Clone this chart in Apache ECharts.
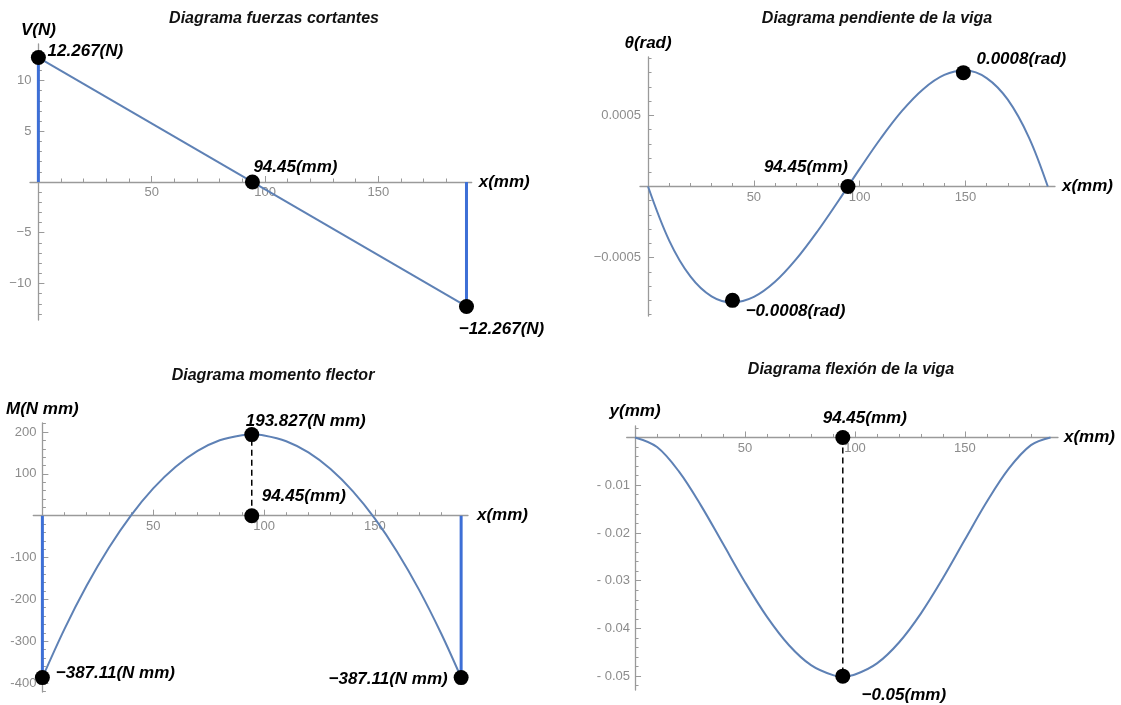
<!DOCTYPE html>
<html>
<head>
<meta charset="utf-8">
<script src="https://cdn.jsdelivr.net/npm/echarts@6/dist/echarts.min.js"></script>
<style>
  html, body { margin: 0; padding: 0; background: #ffffff; }
  #chart { width: 1121px; height: 705px; }
</style>
</head>
<body>
<div id="chart"></div>
<script>
// ---- Beam data: stations along the span (mm) and results at each station ----
const stations   = [0, 10, 20, 30, 40, 50, 60, 70, 80, 90, 94.45, 100, 110, 120, 130, 140, 150, 160, 170, 180, 188.9];
const slope      = [0, -0.000380, -0.000632, -0.000772, -0.000815, -0.000776, -0.000670, -0.000511, -0.000316, -0.000100, 0,
                    0.000124, 0.000339, 0.000531, 0.000684, 0.000784, 0.000815, 0.000762, 0.000610, 0.000344, 0];
const moment     = [-387.11, -270.6, -167.1, -76.7, 0.8, 65.2, 116.5, 154.9, 180.2, 192.5, 193.827,
                    191.8, 178.1, 151.3, 111.5, 58.7, -7.1, -86.0, -177.9, -282.8, -387.11];
const deflection = [0, -0.00201, -0.00717, -0.01428, -0.02229, -0.03031, -0.03758, -0.04352, -0.04769, -0.04978, -0.05,
                    -0.04966, -0.04733, -0.04295, -0.03684, -0.02945, -0.02139, -0.01343, -0.00649, -0.00161, 0];

// Shear force is linear between the supports
const shearX = [0, 188.9];
const shearV = [12.267, -12.267];

// Annotated points
const midSpan        = 94.45;
const slopeExtremaX  = [39.9, 149.0];
const slopeExtrema   = [-0.0008, 0.0008];
const momentMax      = 193.827;
const momentEnds     = [-387.11, -387.11];
const deflectionMax  = -0.05;

// Tick labels
const xTicks     = [50, 100, 150];
const vTicks     = [-10, -5, 5, 10];
const thetaTicks = [-0.0005, 0.0005];
const mTicks     = [-400, -300, -200, -100, 100, 200];
const yTicks     = [-0.05, -0.04, -0.03, -0.02, -0.01];

// ---- styling ----
const FONT = '"Liberation Sans", Arial, sans-serif';
const AXIS_COLOR = '#9a9a9a';
const TICK_LABEL = '#8c8c8c';
const CURVE = '#5e81b5';
const WALL = '#3d6fd6';

function range(a, b, step) {
  const out = [];
  const n = Math.round((b - a) / step);
  for (let i = 0; i <= n; i++) out.push(+(a + i * step).toPrecision(10));
  return out;
}
const xMinor = range(10, 180, 10);

const nameStyle = { color: '#000', fontSize: 17, fontWeight: 'bold', fontStyle: 'italic', fontFamily: FONT };
const annStyle  = { color: '#000', fontSize: 17, fontWeight: 'bold', fontStyle: 'italic', fontFamily: FONT };

function signed(v) { return (v < 0 ? '\u2212' : '') + String(Math.abs(v)); }

const grids = [], xAxes = [], yAxes = [], series = [];

// Each panel: axes cross at the origin (Mathematica-style), major + minor ticks.
function panel(cfg) {
  const gi = grids.length;
  const [left, top, width, height] = cfg.box;
  grids.push({ left: left, top: top, width: width, height: height, containLabel: false });
  // shift the axes from the grid edges to the zero lines
  const xOff = -height * (0 - cfg.yr[0]) / (cfg.yr[1] - cfg.yr[0]);
  const yOff = -width * (0 - cfg.xr[0]) / (cfg.xr[1] - cfg.xr[0]);
  const xi = xAxes.length, yi = yAxes.length;
  xAxes.push({
    type: 'value', gridIndex: gi, position: 'bottom', offset: xOff, min: cfg.xr[0], max: cfg.xr[1],
    axisLine: { onZero: false, lineStyle: { color: AXIS_COLOR, width: 1.3 } },
    axisTick: { show: true, inside: true, length: 6, customValues: xTicks, lineStyle: { color: AXIS_COLOR, width: 1 } },
    axisLabel: { customValues: xTicks, color: TICK_LABEL, fontSize: 13, fontFamily: FONT, margin: 4 },
    splitLine: { show: false },
    name: 'x(mm)', nameLocation: 'end', nameGap: cfg.xNameGap, nameTextStyle: nameStyle
  });
  xAxes.push({
    type: 'value', gridIndex: gi, position: 'bottom', offset: xOff, min: cfg.xr[0], max: cfg.xr[1],
    axisLine: { show: false, onZero: false },
    axisTick: { show: true, inside: true, length: 3.5, customValues: xMinor, lineStyle: { color: AXIS_COLOR, width: 1 } },
    axisLabel: { show: false }, splitLine: { show: false }
  });
  yAxes.push({
    type: 'value', gridIndex: gi, position: 'left', offset: yOff, min: cfg.yr[0], max: cfg.yr[1],
    axisLine: { onZero: false, lineStyle: { color: AXIS_COLOR, width: 1.3 } },
    axisTick: { show: true, inside: true, length: 6, customValues: cfg.yTicks, lineStyle: { color: AXIS_COLOR, width: 1 } },
    axisLabel: { customValues: cfg.yTicks, color: TICK_LABEL, fontSize: 13, fontFamily: FONT, margin: cfg.yLabelMargin, formatter: cfg.yFmt },
    splitLine: { show: false },
    name: cfg.yName, nameLocation: 'end', nameGap: cfg.yNameGap, nameTextStyle: nameStyle
  });
  yAxes.push({
    type: 'value', gridIndex: gi, position: 'left', offset: yOff, min: cfg.yr[0], max: cfg.yr[1],
    axisLine: { show: false, onZero: false },
    axisTick: { show: true, inside: true, length: 3.5, customValues: cfg.yMinor, lineStyle: { color: AXIS_COLOR, width: 1 } },
    axisLabel: { show: false }, splitLine: { show: false }
  });
  return { xAxisIndex: xi, yAxisIndex: yi };
}

function lineSeries(ax, data, color, width, extra) {
  return Object.assign({
    type: 'line', xAxisIndex: ax.xAxisIndex, yAxisIndex: ax.yAxisIndex,
    data: data, showSymbol: false, symbol: 'none', silent: true, z: 3,
    lineStyle: { color: color, width: width }
  }, extra || {});
}

function dashed(ax, x, y0, y1) {
  return lineSeries(ax, [[x, y0], [x, y1]], '#000', 1.5, { lineStyle: { color: '#000', width: 1.5, type: [6, 4] }, z: 4 });
}

// points: [{x, y, text, off:[dx,dy]}]
function dots(ax, points) {
  return {
    type: 'scatter', xAxisIndex: ax.xAxisIndex, yAxisIndex: ax.yAxisIndex,
    symbol: 'circle', symbolSize: 15, itemStyle: { color: '#000', opacity: 1 }, z: 6, silent: true,
    data: points.map(p => ({
      value: [p.x, p.y],
      label: {
        show: true, position: 'inside', align: 'center', verticalAlign: 'middle',
        offset: p.off, formatter: p.text, ...annStyle
      }
    }))
  };
}

// ---- Panel 1: shear force ----
const a1 = panel({
  box: [30, 44, 441.7, 276], xr: [-3.7, 191.2], yr: [-13.6, 13.6],
  yTicks: vTicks, yMinor: range(-13, 13, 1), yLabelMargin: 7,
  yFmt: v => signed(v), yName: 'V(N)', yNameGap: 5, xNameGap: 7
});
series.push(lineSeries(a1, [[shearX[0], 0], [shearX[0], shearV[0]]], WALL, 3));
series.push(lineSeries(a1, [[shearX[1], 0], [shearX[1], shearV[1]]], WALL, 3));
series.push(lineSeries(a1, shearX.map((x, i) => [x, shearV[i]]), CURVE, 2));
series.push(dots(a1, [
  { x: shearX[0], y: shearV[0], text: signed(shearV[0]) + '(N)', off: [47, -6] },
  { x: midSpan, y: 0, text: midSpan + '(mm)', off: [43, -15] },
  { x: shearX[1], y: shearV[1], text: signed(shearV[1]) + '(N)', off: [35, 23] }
]));

// ---- Panel 2: slope ----
const a2 = panel({
  box: [640, 57, 415, 259], xr: [-3.8, 192.3], yr: [-0.00091, 0.00091],
  yTicks: thetaTicks, yMinor: range(-0.0009, 0.0009, 0.0001), yLabelMargin: 7,
  yFmt: v => signed(v), yName: '\u03B8(rad)', yNameGap: 5, xNameGap: 7
});
series.push(lineSeries(a2, stations.map((x, i) => [x, slope[i]]), CURVE, 2, { smooth: 0.35 }));
series.push(dots(a2, [
  { x: slopeExtremaX[1], y: slopeExtrema[1], text: signed(slopeExtrema[1]) + '(rad)', off: [58, -13] },
  { x: midSpan, y: 0, text: midSpan + '(mm)', off: [-42, -19] },
  { x: slopeExtremaX[0], y: slopeExtrema[0], text: signed(slopeExtrema[0]) + '(rad)', off: [63, 11] }
]));

// ---- Panel 3: bending moment ----
const a3 = panel({
  box: [33.3, 423, 434.7, 269], xr: [-4.1, 192.0], yr: [-421.5, 221.6],
  yTicks: mTicks, yMinor: range(-420, 220, 20), yLabelMargin: 6,
  yFmt: v => String(v), yName: 'M(N mm)', yNameGap: 5, xNameGap: 9
});
series.push(lineSeries(a3, [[stations[0], 0], [stations[0], momentEnds[0]]], WALL, 3));
series.push(lineSeries(a3, [[stations[stations.length - 1], 0], [stations[stations.length - 1], momentEnds[1]]], WALL, 3));
series.push(lineSeries(a3, stations.map((x, i) => [x, moment[i]]), CURVE, 2, { smooth: 0.35 }));
series.push(dashed(a3, midSpan, 0, momentMax));
series.push(dots(a3, [
  { x: stations[0], y: momentEnds[0], text: signed(momentEnds[0]) + '(N mm)', off: [73, -4] },
  { x: midSpan, y: momentMax, text: signed(momentMax) + '(N mm)', off: [54, -13] },
  { x: midSpan, y: 0, text: midSpan + '(mm)', off: [52, -19] },
  { x: stations[stations.length - 1], y: momentEnds[1], text: signed(momentEnds[1]) + '(N mm)', off: [-73, 2] }
]));

// ---- Panel 4: deflection ----
const a4 = panel({
  box: [626.7, 426, 431.3, 264], xr: [-3.8, 192.3], yr: [-0.0529, 0.0024],
  yTicks: yTicks, yMinor: range(-0.052, 0.002, 0.002), yLabelMargin: 5,
  yFmt: v => '- ' + String(Math.abs(v)), yName: 'y(mm)', yNameGap: 6, xNameGap: 6
});
series.push(lineSeries(a4, stations.map((x, i) => [x, deflection[i]]), CURVE, 2, { smooth: 0.35 }));
series.push(dashed(a4, midSpan, 0, deflectionMax));
series.push(dots(a4, [
  { x: midSpan, y: 0, text: midSpan + '(mm)', off: [22, -19] },
  { x: midSpan, y: deflectionMax, text: signed(deflectionMax) + '(mm)', off: [61, 19] }
]));

// ---- Panel titles ----
const titleFont = 'italic bold 16px ' + FONT;
const titles = [
  { text: 'Diagrama fuerzas cortantes', x: 274, y: 19 },
  { text: 'Diagrama pendiente de la viga', x: 877, y: 19 },
  { text: 'Diagrama momento flector', x: 273, y: 376 },
  { text: 'Diagrama flexi\u00F3n de la viga', x: 851, y: 370 }
];

const chart = echarts.init(document.getElementById('chart'), null, { renderer: 'canvas', width: 1121, height: 705 });
chart.setOption({
  animation: false,
  backgroundColor: '#ffffff',
  grid: grids,
  xAxis: xAxes,
  yAxis: yAxes,
  series: series,
  graphic: titles.map(t => ({
    type: 'text', x: t.x, y: t.y, silent: true,
    style: { text: t.text, font: titleFont, fill: '#111', textAlign: 'center', textVerticalAlign: 'middle' }
  }))
});
</script>
</body>
</html>
